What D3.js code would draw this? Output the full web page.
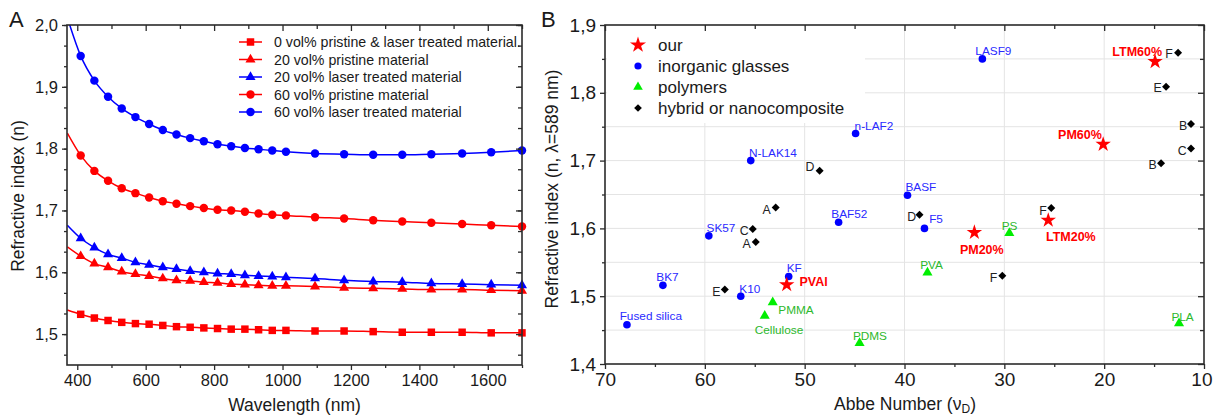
<!DOCTYPE html>
<html><head><meta charset="utf-8">
<script src="https://cdn.jsdelivr.net/npm/d3@7"></script>
<style>
body{margin:0;background:#fff}
svg{font-family:"Liberation Sans",Arial,Helvetica,sans-serif}
</style>
</head><body>
<svg id="c" width="1213" height="418"></svg>
<script>
// ---------------- Panel A data ----------------
const wavelengths = [410,450,490,530,570,610,650,690,730,770,810,850,890,930,970,1010,1095,1180,1265,1350,1435,1525,1610,1700];
const n0vol   = [1.532,1.526,1.522,1.519,1.517,1.516,1.514,1.512,1.511,1.510,1.509,1.508,1.508,1.507,1.506,1.506,1.505,1.505,1.504,1.503,1.503,1.503,1.502,1.502];
const n20PM   = [1.626,1.614,1.608,1.601,1.597,1.594,1.590,1.587,1.586,1.584,1.583,1.581,1.580,1.579,1.578,1.578,1.577,1.575,1.574,1.573,1.572,1.572,1.571,1.570];
const n20LTM  = [1.655,1.640,1.629,1.623,1.616,1.612,1.608,1.605,1.602,1.600,1.598,1.597,1.595,1.594,1.593,1.592,1.590,1.587,1.585,1.584,1.582,1.581,1.580,1.579];
const n60PM   = [1.789,1.764,1.748,1.736,1.728,1.721,1.715,1.711,1.707,1.704,1.701,1.700,1.698,1.695,1.693,1.692,1.689,1.687,1.684,1.682,1.680,1.678,1.676,1.674];
const n60LTM  = [1.950,1.910,1.884,1.865,1.851,1.840,1.830,1.823,1.817,1.812,1.807,1.804,1.801,1.799,1.797,1.795,1.792,1.791,1.790,1.790,1.791,1.792,1.794,1.797];
// fitted curve values at the left edge of the axis (371 nm)
const fitStartWavelength = 371;
const fitStartValues = [1.539, 1.641, 1.676, 1.825, 2.012];
const seriesLabels = ["0 vol% pristine & laser treated material.","20 vol% pristine material","20 vol% laser treated material","60 vol% pristine material","60 vol% laser treated material"];
const seriesValues = [n0vol, n20PM, n20LTM, n60PM, n60LTM];
const seriesColors = ["#ff0000","#ff0000","#0000ff","#ff0000","#0000ff"];
const seriesShapes = ["square","triangle","triangle","circle","circle"];
const aXTicks = [400,600,800,1000,1200,1400,1600];
const aYTicks = [1.5,1.6,1.7,1.8,1.9,2.0];

// ---------------- Panel B data ----------------
const ourNames = ["LTM60%","PM60%","PM20%","LTM20%","PVAl"];
const ourAbbe  = [14.9, 20.1, 33.0, 25.6, 51.8];
const ourN     = [1.846, 1.724, 1.594, 1.612, 1.517];

const glassNames = ["LASF9","n-LAF2","N-LAK14","BASF","BAF52","F5","SK57","KF","BK7","K10","Fused silica"];
const glassAbbe  = [32.2, 44.9, 55.4, 39.7, 46.6, 38.0, 59.6, 51.6, 64.2, 56.4, 67.8];
const glassN     = [1.850, 1.740, 1.700, 1.649, 1.609, 1.600, 1.589, 1.529, 1.516, 1.500, 1.458];

const polyNames = ["PMMA","Cellulose","PDMS","PVA","PS","PLA"];
const polyAbbe  = [53.2, 54.0, 44.5, 37.7, 29.5, 12.5];
const polyN     = [1.491, 1.471, 1.431, 1.535, 1.593, 1.460];

const hybNames = ["F","E","B","C","B","D","A","F","D","C","A","F","E"];
const hybAbbe  = [12.6, 13.8, 11.3, 11.3, 14.3, 48.5, 52.9, 25.3, 38.5, 55.2, 54.9, 30.2, 58.0];
const hybN     = [1.859, 1.809, 1.754, 1.718, 1.696, 1.685, 1.631, 1.630, 1.620, 1.599, 1.580, 1.530, 1.510];

const legendB = ["our","inorganic glasses","polymers","hybrid or nanocomposite"];
const bXTicks = [70,60,50,40,30,20,10];
const bYTicks = [1.4,1.5,1.6,1.7,1.8,1.9];

// ---------------- label layout (offsets in px, separate from data) ----------------
const ourLabelLayout  = [["end",7,-5.4],["end",-1.3,-5.7],["middle",7.4,22],["start",-2.3,21],["start",12.7,1]];
const glassLabelLayout = [[-7,-3.6],[-1,-3.3],[-1.7,-3.7],[-2,-3.7],[-7.3,-4],[4.7,-5],[-2.3,-4],[-2,-4.4],[-6.6,-4.4],[-1.4,-3.7],[-7.3,-4.3]];
const polyLabelLayout = [[5.6,12],[-10,18],[-6.7,-3.3],[-7.3,-3.4],[-7.6,-3.3],[-7.6,-2.6]];
const hybLabelLayout  = [[-5.3,5.3],[-4.3,5.6],[-3.7,6],[-4.4,6.4],[-4.4,5.7],[-5.3,0],[-5,6.7],[-4.4,6.7],[-3.3,5.7],[-4,6.4],[-5,6],[-5,6.3],[-4.3,6.4]];

const svg = d3.select("#c");
const comma = d => d3.format(".1f")(d).replace(".", ",");
const AX = "#2b2b2b";

function symPath(shape, size) {
  const t = {square: d3.symbolSquare, triangle: d3.symbolTriangle, circle: d3.symbolCircle,
             star: d3.symbolStar, diamond: d3.symbolSquare}[shape];
  return d3.symbol().type(t).size(size)();
}

function drawFrame(g, x, y, o) {
  const [x0, x1] = x.range(), [y0, y1] = y.range();
  const style = sel => {
    sel.attr("font-size", null).attr("font-family", null);
    sel.select(".domain").remove();
    sel.selectAll("line").attr("stroke", AX).attr("stroke-width", 1.3);
    sel.selectAll("text").attr("fill", "#1a1a1a").style("font-size", o.tickFont + "px");
  };
  // bottom (outward)
  g.append("g").attr("transform", `translate(0,${y0})`)
    .call(d3.axisBottom(x).tickValues(o.xMinor).tickSize(3).tickFormat("")).call(style);
  g.append("g").attr("transform", `translate(0,${y0})`)
    .call(d3.axisBottom(x).tickValues(o.xMajor).tickSize(5).tickPadding(4).tickFormat(o.xFmt)).call(style);
  // top (inward)
  g.append("g").attr("transform", `translate(0,${y1})`)
    .call(d3.axisBottom(x).tickValues(o.xMinor).tickSize(4).tickFormat("")).call(style);
  g.append("g").attr("transform", `translate(0,${y1})`)
    .call(d3.axisBottom(x).tickValues(o.xMajor).tickSize(6).tickFormat("")).call(style);
  // left (outward)
  g.append("g").attr("transform", `translate(${x0},0)`)
    .call(d3.axisLeft(y).tickValues(o.yMinor).tickSize(3).tickFormat("")).call(style);
  g.append("g").attr("transform", `translate(${x0},0)`)
    .call(d3.axisLeft(y).tickValues(o.yMajor).tickSize(5).tickPadding(4).tickFormat(o.yFmt)).call(style);
  // right (inward)
  g.append("g").attr("transform", `translate(${x1},0)`)
    .call(d3.axisLeft(y).tickValues(o.yMinor).tickSize(4).tickFormat("")).call(style);
  g.append("g").attr("transform", `translate(${x1},0)`)
    .call(d3.axisLeft(y).tickValues(o.yMajor).tickSize(6).tickFormat("")).call(style);
  g.append("rect").attr("x", x0).attr("y", y1).attr("width", x1 - x0).attr("height", y0 - y1)
    .attr("fill", "none").attr("stroke", AX).attr("stroke-width", 1.6);
}

// ================= Panel A =================
const xA = d3.scaleLinear().domain([370, 1700]).range([67, 522]);
const yA = d3.scaleLinear().domain([1.45, 2.0]).range([365, 25]);
const gA = svg.append("g");

svg.append("defs").append("clipPath").attr("id", "clipA")
  .append("rect").attr("x", 67).attr("y", 25).attr("width", 455).attr("height", 340);

const aXMinor = d3.range(500, 1701, 200);
const aYMinorF = d3.range(0, 17).map(i => 1.5 - 1/30 + i / 30).filter(v => v >= 1.449 && v <= 2.001);

const lineA = d3.line().x(d => xA(d[0])).y(d => yA(d[1])).curve(d3.curveMonotoneX);
seriesValues.forEach((vals, i) => {
  const pts = [[fitStartWavelength, fitStartValues[i]]].concat(wavelengths.map((w, j) => [w, vals[j]]));
  gA.append("path").attr("d", lineA(pts)).attr("fill", "none")
    .attr("stroke", seriesColors[i]).attr("stroke-width", 1.5).attr("clip-path", "url(#clipA)");
});
const sizeA = {square: 56, triangle: 44, circle: 56};
seriesValues.forEach((vals, i) => {
  gA.append("g").selectAll("path").data(vals).join("path")
    .attr("d", symPath(seriesShapes[i], sizeA[seriesShapes[i]]))
    .attr("transform", (d, j) => `translate(${xA(wavelengths[j])},${yA(d)})`)
    .attr("fill", seriesColors[i]);
});

drawFrame(gA, xA, yA, {xMajor: aXTicks, xMinor: aXMinor, yMajor: aYTicks, yMinor: aYMinorF,
  xFmt: d3.format("d"), yFmt: comma, tickFont: 16.5});

// legend A
const legA = gA.append("g");
seriesLabels.forEach((t, i) => {
  const yy = 42 + i * 17.5;
  legA.append("line").attr("x1", 239).attr("x2", 262).attr("y1", yy).attr("y2", yy)
    .attr("stroke", seriesColors[i]).attr("stroke-width", 1.5);
  legA.append("path").attr("d", symPath(seriesShapes[i], sizeA[seriesShapes[i]]))
    .attr("transform", `translate(250.5,${yy})`).attr("fill", seriesColors[i]);
  legA.append("text").attr("x", 274).attr("y", yy + 5).text(t)
    .attr("font-size", 14.2).attr("fill", "#1a1a1a");
});

gA.append("text").attr("x", 294.5).attr("y", 411).attr("text-anchor", "middle")
  .attr("font-size", 17.5).attr("fill", "#1a1a1a").text("Wavelength (nm)");
gA.append("text").attr("transform", "translate(24,196) rotate(-90)").attr("text-anchor", "middle")
  .attr("font-size", 17.5).attr("fill", "#1a1a1a").text("Refractive index (n)");
gA.append("text").attr("x", 9).attr("y", 27).attr("font-size", 22).attr("fill", "#1a1a1a").text("A");

// ================= Panel B =================
const xB = d3.scaleLinear().domain([70, 10]).range([605, 1204]);
const yB = d3.scaleLinear().domain([1.4, 1.9]).range([364, 25]);
const gB = svg.append("g");

// grid
const gridY = d3.range(1.45, 1.89, 0.05);
gB.append("g").selectAll("line").data(gridY).join("line")
  .attr("x1", 605).attr("x2", 1204).attr("y1", d => yB(d)).attr("y2", d => yB(d))
  .attr("stroke", "#e4e4e4").attr("stroke-width", 1);
gB.append("g").selectAll("line").data([60, 50, 40, 30, 20]).join("line")
  .attr("y1", 25).attr("y2", 364).attr("x1", d => xB(d)).attr("x2", d => xB(d))
  .attr("stroke", "#e4e4e4").attr("stroke-width", 1);

// legend box covering grid
gB.append("rect").attr("x", 607).attr("y", 27).attr("width", 258).attr("height", 96).attr("fill", "#fff");

const bXMinor = [65, 55, 45, 35, 25, 15];
const bYMinor = [1.45, 1.55, 1.65, 1.75, 1.85];
drawFrame(gB, xB, yB, {xMajor: bXTicks, xMinor: bXMinor, yMajor: bYTicks, yMinor: bYMinor,
  xFmt: d3.format("d"), yFmt: comma, tickFont: 19});
// keep the last x label inside the page edge
gB.selectAll("g.tick text").filter(d => d === 10).attr("text-anchor", "end").attr("dx", 8);

const RED = "#ff0000", BLUE = "#0000ff", GREEN = "#00ee00", GREENTXT = "#2db82d", BLUETXT = "#2a2aff";
const fontLbl = 11.8;

// polymers
polyNames.forEach((nm, i) => {
  const px = xB(polyAbbe[i]), py = yB(polyN[i]);
  gB.append("path").attr("d", symPath("triangle", 44)).attr("transform", `translate(${px},${py})`).attr("fill", GREEN);
  gB.append("text").attr("x", px + polyLabelLayout[i][0]).attr("y", py + polyLabelLayout[i][1])
    .attr("font-size", fontLbl).attr("fill", GREENTXT).text(nm);
});
// glasses
glassNames.forEach((nm, i) => {
  const px = xB(glassAbbe[i]), py = yB(glassN[i]);
  gB.append("circle").attr("cx", px).attr("cy", py).attr("r", 3.8).attr("fill", BLUE);
  gB.append("text").attr("x", px + glassLabelLayout[i][0]).attr("y", py + glassLabelLayout[i][1])
    .attr("font-size", fontLbl).attr("fill", BLUETXT).text(nm);
});
// hybrids
hybNames.forEach((nm, i) => {
  const px = xB(hybAbbe[i]), py = yB(hybN[i]);
  gB.append("path").attr("d", symPath("diamond", 32)).attr("transform", `translate(${px},${py}) rotate(45)`).attr("fill", "#000");
  gB.append("text").attr("x", px + hybLabelLayout[i][0]).attr("y", py + hybLabelLayout[i][1])
    .attr("text-anchor", "end").attr("font-size", 12.3).attr("fill", "#222").text(nm);
});
// ours
ourNames.forEach((nm, i) => {
  const px = xB(ourAbbe[i]), py = yB(ourN[i]);
  gB.append("path").attr("d", symPath("star", 74)).attr("transform", `translate(${px},${py})`).attr("fill", RED);
  const L = ourLabelLayout[i];
  gB.append("text").attr("x", px + L[1]).attr("y", py + L[2]).attr("text-anchor", L[0])
    .attr("font-size", 12.5).attr("font-weight", "bold").attr("fill", RED).text(nm);
});

// legend B
const legB = gB.append("g");
const legShapes = [["star", RED], ["circle", BLUE], ["triangle", GREEN], ["diamond", "#000"]];
legendB.forEach((t, i) => {
  const yy = 45 + i * 21;
  const [sh, col] = legShapes[i];
  if (sh === "circle") legB.append("circle").attr("cx", 638).attr("cy", yy).attr("r", 3.6).attr("fill", col);
  else legB.append("path").attr("d", symPath(sh, sh === "star" ? 80 : (sh === "diamond" ? 30 : 40)))
    .attr("transform", `translate(638,${yy})` + (sh === "diamond" ? " rotate(45)" : "")).attr("fill", col);
  legB.append("text").attr("x", 658).attr("y", yy + 6).attr("font-size", 17).attr("fill", "#1a1a1a").text(t);
});

gB.append("text").attr("x", 905).attr("y", 410).attr("text-anchor", "middle")
  .attr("font-size", 17.5).attr("fill", "#1a1a1a")
  .call(t => { t.append("tspan").text("Abbe Number (ν");
               t.append("tspan").attr("font-size", 12).attr("dy", 3).text("D");
               t.append("tspan").attr("dy", -3).text(")"); });
gB.append("text").attr("transform", "translate(558,189) rotate(-90)").attr("text-anchor", "middle")
  .attr("font-size", 17.5).attr("fill", "#1a1a1a").text("Refractive index (n, λ=589 nm)");
gB.append("text").attr("x", 541).attr("y", 27).attr("font-size", 22).attr("fill", "#1a1a1a").text("B");
</script>
</body></html>
